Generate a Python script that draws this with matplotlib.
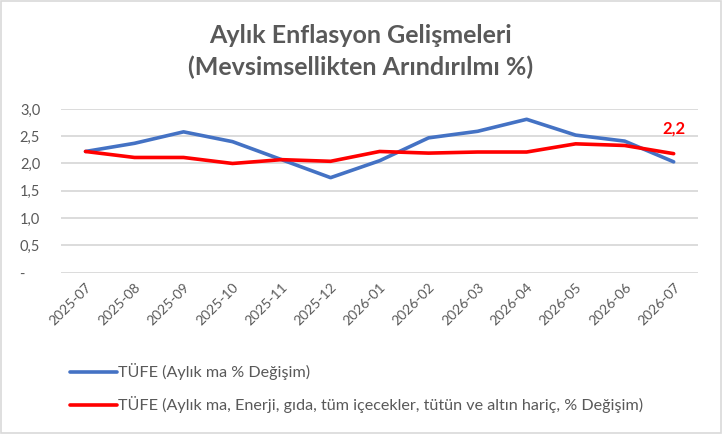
import numpy as np
import matplotlib
matplotlib.use("Agg")
import matplotlib.pyplot as plt
from matplotlib.patches import Rectangle

months = ["2025-07", "2025-08", "2025-09", "2025-10", "2025-11", "2025-12", "2026-01",
          "2026-02", "2026-03", "2026-04", "2026-05", "2026-06", "2026-07"]
tufe = [2.22, 2.37, 2.58, 2.40, 2.07, 1.74, 2.05, 2.47, 2.59, 2.81, 2.52, 2.41, 2.03]
tufe_core = [2.22, 2.11, 2.11, 2.00, 2.07, 2.04, 2.22, 2.19, 2.21, 2.21, 2.36, 2.33, 2.18]
yticks = [0.0, 0.5, 1.0, 1.5, 2.0, 2.5, 3.0]
ytick_labels = ["-    ", "0,5", "1,0", "1,5", "2,0", "2,5", "3,0"]
label_blue = "TÜFE (Aylık ma % Değişim)"
label_red = "TÜFE (Aylık ma, Enerji, gıda, tüm içecekler, tütün ve altın hariç, % Değişim)"

plt.rcParams['font.family'] = ['Lato', 'DejaVu Sans']
gray = "#595959"

fig = plt.figure(figsize=(7.22, 4.34), dpi=100)
fig.patches.append(Rectangle((0.001, 0.002), 0.997, 0.995, transform=fig.transFigure,
                             fill=False, edgecolor="#d9d9d9", linewidth=1.2))
ax = fig.add_axes([0.0845, 0.372, 0.8825, 0.377])

x = np.arange(len(months))
ax.plot(x, tufe, color="#4472c4", linewidth=2.6, label=label_blue, solid_capstyle="round")
ax.plot(x, tufe_core, color="#ff0000", linewidth=2.6, label=label_red, solid_capstyle="round")
ax.annotate("2,2", (x[-1], tufe_core[-1]), xytext=(0, 12), textcoords="offset points",
            ha="center", va="bottom", color="#ff0000", fontweight="bold", fontsize=12)

ax.set_xlim(-0.5, len(months) - 0.5)
ax.set_ylim(0, 3.0)
ax.set_yticks(yticks)
ax.set_yticklabels(ytick_labels)
ax.set_xticks(x)
ax.set_xticklabels(months, rotation=45, ha="right", rotation_mode="anchor")
ax.tick_params(axis="both", length=0, colors=gray, labelsize=10.5)
ax.tick_params(axis="x", pad=6, labelsize=10)
ax.tick_params(axis="y", pad=15)
for lab in ax.get_yticklabels():
    lab.set_horizontalalignment("right")
ax.grid(axis="y", color="#d9d9d9", linewidth=1.3)
ax.set_axisbelow(True)
for s in ax.spines.values():
    s.set_visible(False)

fig.text(0.5, 0.918, "Aylık Enflasyon Gelişmeleri", ha="center", va="center",
         fontsize=18, fontweight="bold", color=gray)
fig.text(0.5, 0.845, "(Mevsimsellikten Arındırılmı %)", ha="center", va="center",
         fontsize=18, fontweight="bold", color=gray)

fig.legend(loc="upper left", bbox_to_anchor=(0.088, 0.178), frameon=False,
           fontsize=11.6, handlelength=2.9, handletextpad=0.1, labelspacing=1.0,
           labelcolor=gray, borderaxespad=0)

fig.savefig("out.png", dpi=100)
